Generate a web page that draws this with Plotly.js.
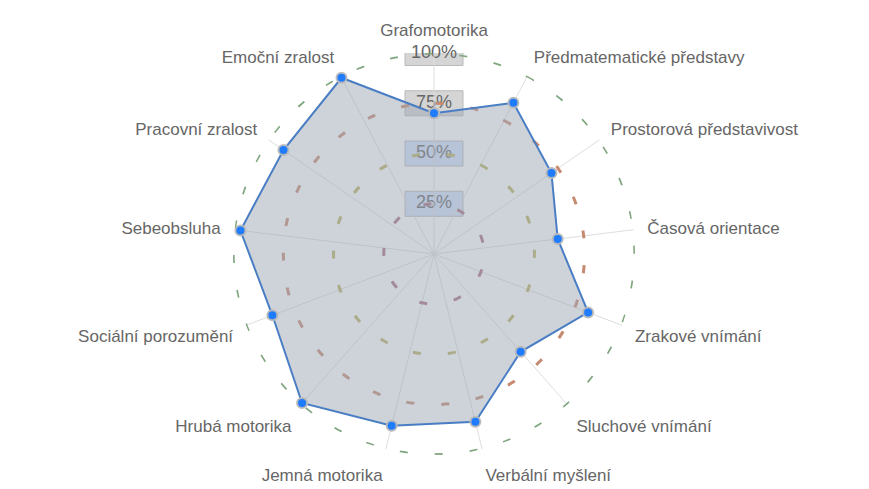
<!DOCTYPE html>
<html>
<head>
<meta charset="utf-8">
<script src="https://cdn.plot.ly/plotly-3.0.1.min.js"></script>
<style>html,body{margin:0;padding:0;background:#fff;}#chart{width:869px;height:489px;}</style>
</head>
<body>
<div id="chart"></div>
<script>
// ---- data ----
var categories = ['Grafomotorika', 'Předmatematické představy', 'Prostorová představivost', 'Časová orientace',
  'Zrakové vnímání', 'Sluchové vnímání', 'Verbální myšlení', 'Jemná motorika', 'Hrubá motorika',
  'Sociální porozumění', 'Sebeobsluha', 'Pracovní zralost', 'Emoční zralost'];
var values = [70, 85, 71, 62, 82, 65, 86, 88, 99, 86, 97, 91, 99];
var tickLevels = [25, 50, 75, 100];
var tickLabels = ['25%', '50%', '75%', '100%'];

// ---- styles ----
var ringColors = ['#a8707e', '#b8b25e', '#c68a70', '#7fa67f'];
var boxColors = ['#d0e0fa', '#d0e0fa', '#d5d5d5', '#d5d5d5'];
var W = 869, H = 489, cx = 434, cy = 254, R = 201;
var dom = {
  x: [(cx - R) / W, (cx + R) / W],
  y: [1 - (cy + R) / H, 1 - (cy - R) / H]
};
var FONT = '"Liberation Sans", Arial, Helvetica, sans-serif';

var closedTheta = categories.concat([categories[0]]);
var traces = [];

tickLevels.forEach(function (lvl, i) {
  traces.push({
    type: 'scatterpolar', mode: 'lines',
    theta: closedTheta,
    r: closedTheta.map(function () { return lvl; }),
    line: {color: ringColors[i], width: 3, dash: '8px,27px', shape: 'spline'},
    fill: 'toself', fillcolor: 'rgba(0,0,0,0)',
    hoverinfo: 'skip', showlegend: false
  });
});

traces.push({
  type: 'scatterpolar', mode: 'lines+markers',
  theta: closedTheta,
  r: values.concat([values[0]]),
  fill: 'toself', fillcolor: 'rgba(158,166,180,0.5)',
  line: {color: '#4a7ec4', width: 2},
  marker: {size: 10, color: '#1f7cff', line: {color: 'rgba(185,185,185,0.95)', width: 2}},
  showlegend: false
});

// radial tick labels, drawn through an overlay cartesian axis pair
traces.push({
  type: 'scatter', mode: 'text', xaxis: 'x', yaxis: 'y',
  x: tickLevels.map(function () { return 0; }),
  y: tickLevels,
  text: tickLabels,
  textposition: 'middle center',
  textfont: {family: FONT, size: 18, color: '#666'},
  hoverinfo: 'skip', showlegend: false, cliponaxis: false
});

var shapes = tickLevels.map(function (lvl, i) {
  return {
    type: 'rect', layer: 'below', xref: 'x', yref: 'y',
    xsizemode: 'pixel', xanchor: 0, x0: -29, x1: 29,
    ysizemode: 'pixel', yanchor: lvl, y0: -12.5, y1: 12.5,
    fillcolor: boxColors[i], line: {color: '#b9b9b9', width: 1}
  };
});

var layout = {
  width: W, height: H,
  margin: {l: 0, r: 0, t: 0, b: 0},
  paper_bgcolor: '#fff', plot_bgcolor: 'rgba(0,0,0,0)',
  showlegend: false,
  font: {family: FONT, color: '#666'},
  xaxis: {domain: dom.x, range: [-100, 100], visible: false, fixedrange: true},
  yaxis: {domain: dom.y, range: [-100, 100], visible: false, fixedrange: true},
  shapes: shapes,
  polar: {
    domain: dom,
    bgcolor: 'rgba(0,0,0,0)',
    radialaxis: {range: [0, 100], showgrid: false, showline: false, showticklabels: false, ticks: ''},
    angularaxis: {
      direction: 'clockwise', rotation: 90,
      categoryorder: 'array', categoryarray: categories,
      showline: false, gridcolor: '#dedede', gridwidth: 1,
      ticks: 'outside', ticklen: 10, tickcolor: 'rgba(0,0,0,0)',
      tickfont: {family: FONT, size: 17, color: '#666'}
    }
  }
};

Plotly.newPlot('chart', traces, layout, {staticPlot: true, displayModeBar: false});
</script>
</body>
</html>
